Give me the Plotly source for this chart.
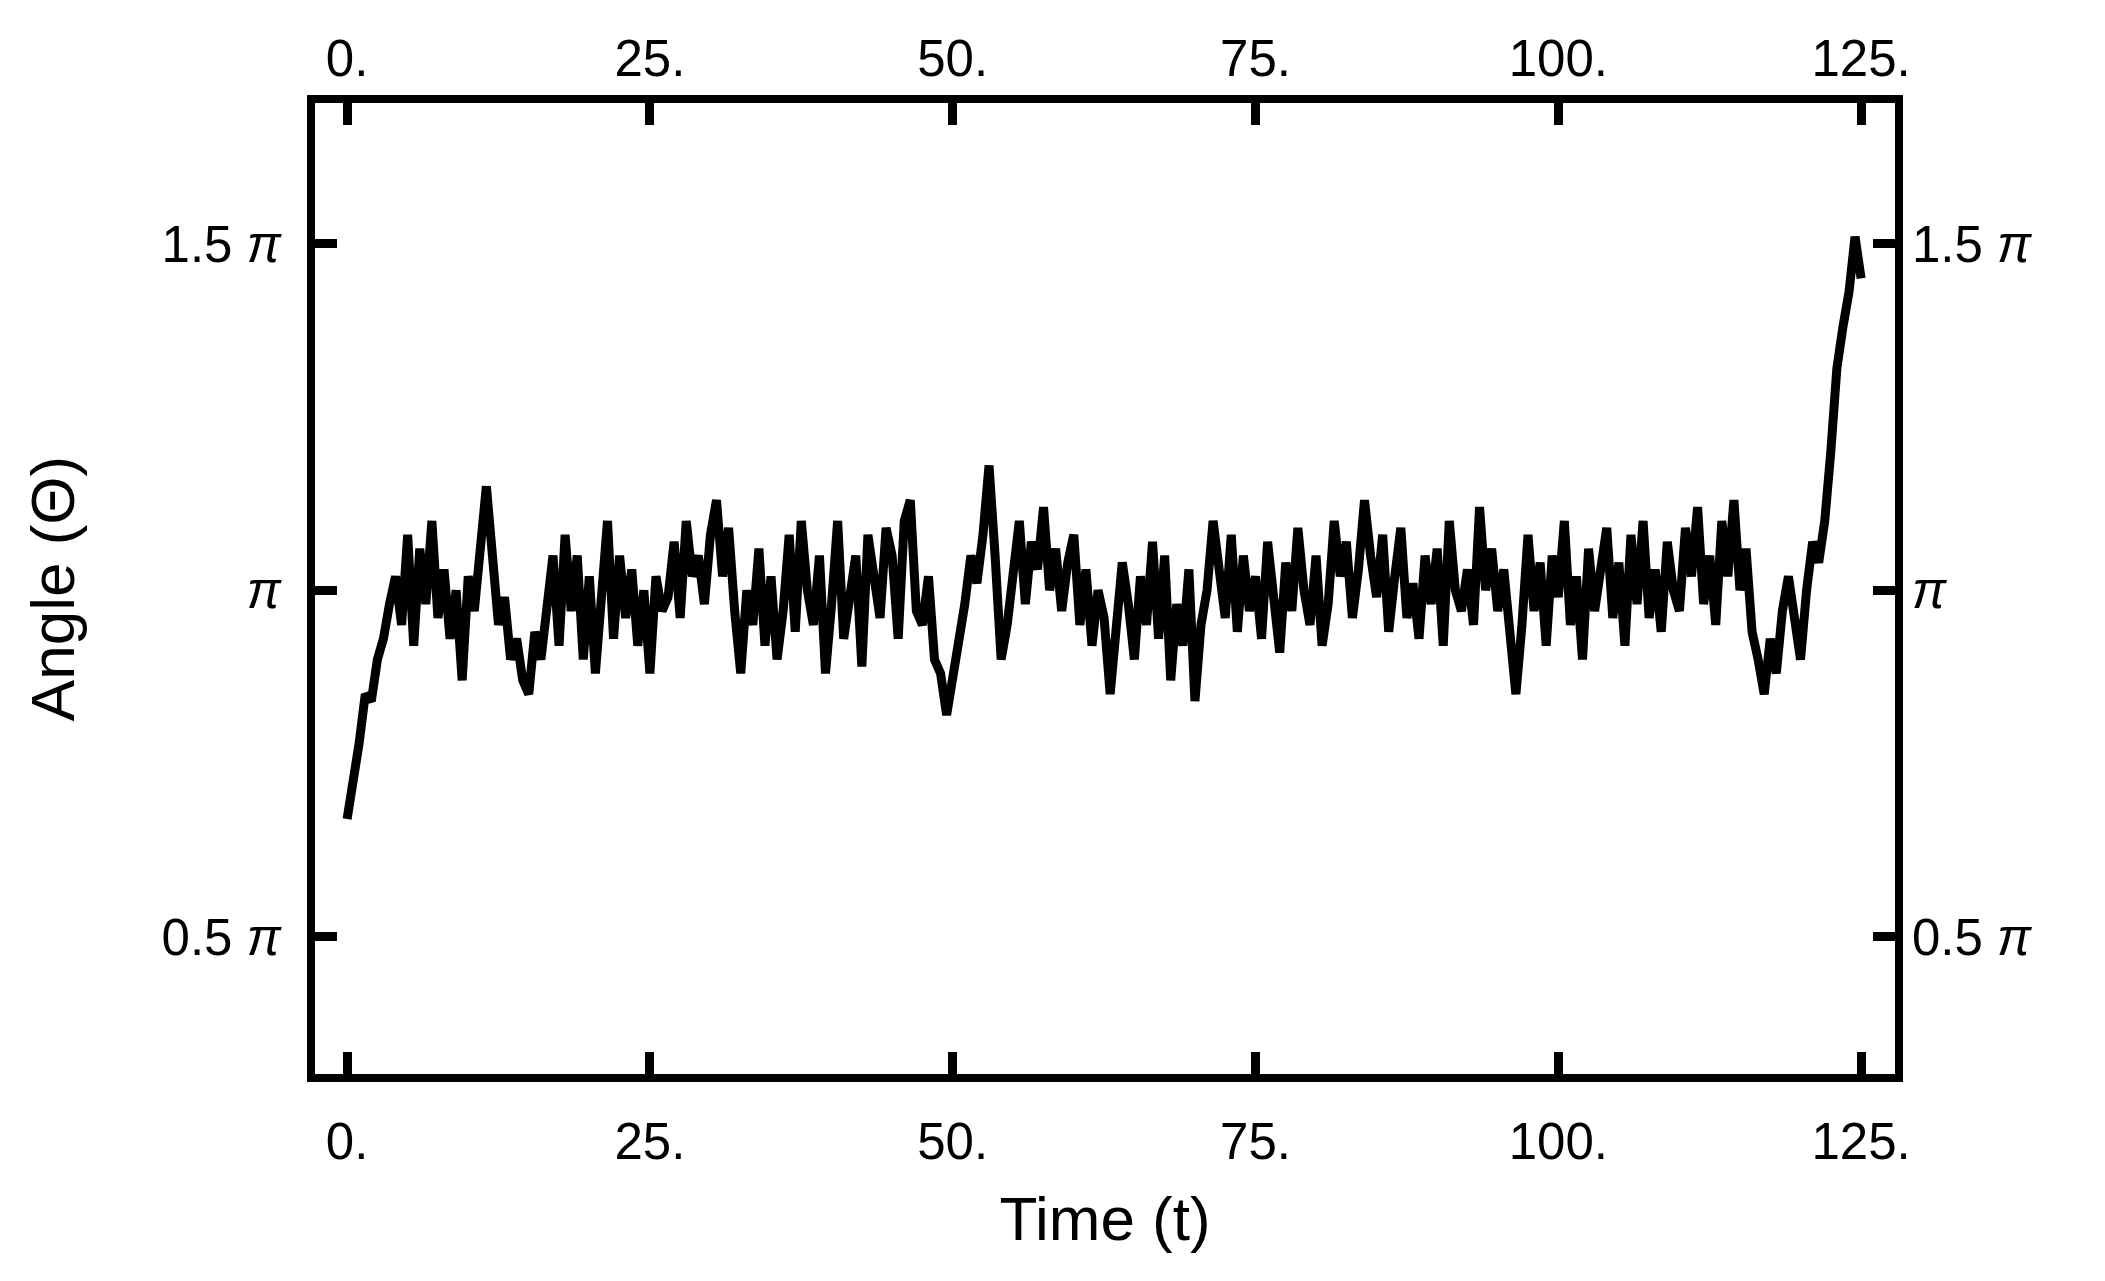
import plotly.graph_objects as go
import numpy as np

time = [i*0.5 for i in range(251)]
angle_pi = [
0.67,0.72,0.78,0.85,0.84,0.9,0.93,0.98,1.02,0.95,
1.08,0.92,1.06,0.98,1.1,0.96,1.03,0.93,1.0,0.87,
1.02,0.97,1.08,1.15,1.05,0.95,0.99,0.9,0.93,0.87,
0.85,0.94,0.9,0.97,1.05,0.92,1.08,0.97,1.05,0.9,
1.02,0.88,0.98,1.1,0.93,1.05,0.96,1.03,0.92,1.0,
0.88,1.02,0.97,0.99,1.07,0.96,1.1,1.02,1.05,0.98,
1.08,1.13,1.02,1.09,0.97,0.88,1.0,0.95,1.06,0.92,
1.02,0.9,0.97,1.08,0.94,1.1,1.0,0.95,1.05,0.88,
0.98,1.1,0.93,1.0,1.05,0.89,1.08,1.02,0.96,1.09,
1.05,0.93,1.1,1.13,0.97,0.95,1.02,0.9,0.88,0.82,
0.87,0.92,0.98,1.05,1.01,1.08,1.18,1.05,0.9,0.95,
1.02,1.1,0.98,1.07,1.03,1.12,1.0,1.06,0.97,1.04,
1.08,0.95,1.03,0.92,1.0,0.96,0.85,0.93,1.04,0.98,
0.9,1.02,0.95,1.07,0.93,1.05,0.87,0.98,0.92,1.03,
0.84,0.95,1.0,1.1,1.03,0.96,1.08,0.94,1.05,0.97,
1.02,0.93,1.07,0.99,0.91,1.04,0.97,1.09,1.0,0.95,
1.05,0.92,0.98,1.1,1.02,1.07,0.96,1.03,1.13,1.05,
0.99,1.08,0.94,1.02,1.09,0.96,1.01,0.93,1.05,0.98,
1.06,0.92,1.1,1.0,0.97,1.03,0.95,1.12,1.0,1.06,
0.97,1.03,0.93,0.85,0.95,1.08,0.97,1.04,0.92,1.05,
0.99,1.1,0.95,1.02,0.9,1.06,0.97,1.03,1.09,0.96,
1.04,0.92,1.08,0.98,1.1,0.96,1.03,0.94,1.07,1.0,
0.97,1.09,1.02,1.12,0.98,1.05,0.95,1.1,1.02,1.13,
1.0,1.06,0.94,0.9,0.85,0.93,0.88,0.97,1.02,0.96,
0.9,1.0,1.07,1.04,1.1,1.2,1.32,1.38,1.43,1.51,
1.45]
angle = [v*np.pi for v in angle_pi]

xticks = [0, 25, 50, 75, 100, 125]
xtick_labels = ["0.", "25.", "50.", "75.", "100.", "125."]
yticks = [0.5*np.pi, np.pi, 1.5*np.pi]
ytick_labels = ["0.5 <i>\u03c0</i>", "<i>\u03c0</i>", "1.5 <i>\u03c0</i>"]

xr = [-2.65, 127.8]
yr = [0.302*np.pi, 1.703*np.pi]

fig = go.Figure()
fig.add_trace(go.Scatter(x=time, y=angle, mode="lines",
                         line=dict(color="black", width=9), showlegend=False))
fig.add_trace(go.Scatter(x=[None], y=[None], xaxis="x2", yaxis="y2", showlegend=False))

fam = "Liberation Sans, Arial, sans-serif"
font = dict(family=fam, size=51, color="black")
common = dict(ticks="inside", ticklen=22, tickwidth=9, tickcolor="black",
              showgrid=False, zeroline=False, tickfont=font, ticklabelstandoff=16)
fig.update_layout(
    width=2105, height=1281,
    paper_bgcolor="white", plot_bgcolor="white",
    margin=dict(l=307, r=218, t=95, b=215),
    xaxis=dict(range=xr, tickvals=xticks, ticktext=xtick_labels,
               showline=True, linewidth=8, linecolor="black", mirror=True,
               title=dict(text="Time (t)", font=dict(family=fam, size=62, color="black"), standoff=30),
               **common),
    yaxis=dict(range=yr, tickvals=yticks, ticktext=ytick_labels,
               showline=True, linewidth=8, linecolor="black", mirror=True,
               title=dict(text="Angle (\u0398)", font=dict(family=fam, size=62, color="black"), standoff=70),
               **common),
    xaxis2=dict(range=xr, tickvals=xticks, ticktext=xtick_labels, overlaying="x",
                side="top", anchor="y2", **common),
    yaxis2=dict(range=yr, tickvals=yticks, ticktext=ytick_labels, overlaying="y",
                side="right", anchor="x2", **common),
)
fig.write_html("out.html")
